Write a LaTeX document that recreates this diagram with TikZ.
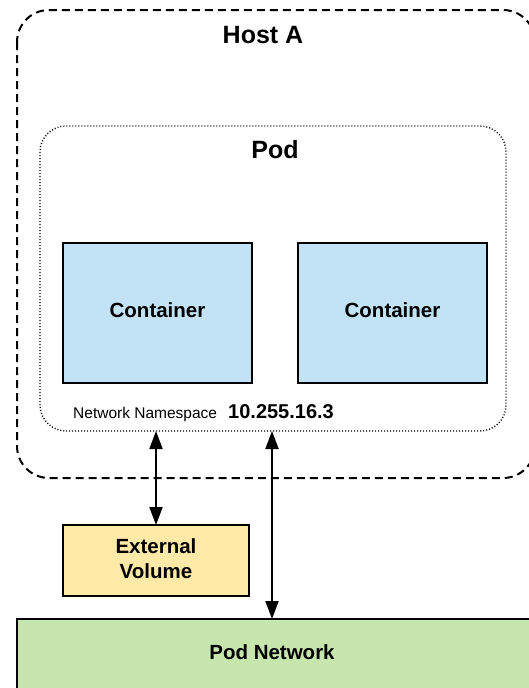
\documentclass[tikz,border=0pt]{standalone}
\usepackage{fontspec}
\setmainfont{Liberation Sans}
\usetikzlibrary{arrows.meta}
\definecolor{cblue}{HTML}{C1E3F5}
\definecolor{cyellow}{HTML}{FFE9A6}
\definecolor{cgreen}{HTML}{C6E6AE}
\begin{document}
\begin{tikzpicture}[x=1pt,y=-1pt,
  boxstyle/.style={draw=black,line width=2pt,inner sep=0pt,outer sep=0pt},
  title/.style={font=\fontsize{25}{30}\selectfont\bfseries,inner sep=0pt},
  lbl/.style={font=\fontsize{20.5}{24}\selectfont\bfseries,align=center,inner sep=0pt},
  conn/.style={line width=2pt,{Triangle[length=18pt,width=13pt]}-{Triangle[length=18pt,width=13pt]}}]
\useasboundingbox (0,0) rectangle (529,688);
\clip (0,0) rectangle (529,688);
% Host A
\draw[line width=2pt,dash pattern=on 8pt off 5pt,rounded corners=32pt] (17,10) rectangle (535,478);
\node[title] (host) at (263,35) {Host A};
% Pod
\draw[line width=1.4pt,dash pattern=on 1pt off 2pt,rounded corners=26pt] (40,126) rectangle (506,431);
\coordinate (podbot1) at (156,431);
\coordinate (podbot2) at (272,431);
\node[title] (pod) at (275,150) {Pod};
% Containers
\node[boxstyle,fill=cblue,minimum width=189pt,minimum height=140pt,anchor=north west] (c1) at (63,243) {};
\node[lbl] at ([yshift=3pt]c1.center) {Container};
\node[boxstyle,fill=cblue,minimum width=189pt,minimum height=140pt,anchor=north west] (c2) at (298,243) {};
\node[lbl] at ([yshift=3pt]c2.center) {Container};
% namespace label
\node[font=\fontsize{15.5}{18}\selectfont,anchor=base west,inner sep=0pt] (ns) at (73,418) {Network Namespace};
\node[font=\fontsize{20}{24}\selectfont\bfseries,anchor=base west,inner sep=0pt] (ip) at (228,418) {10.255.16.3};
% External volume
\node[boxstyle,fill=cyellow,minimum width=186pt,minimum height=71pt,anchor=north west] (ev) at (63,525) {};
\node[lbl,font=\fontsize{20.5}{25}\selectfont\bfseries] at ([yshift=2pt]ev.center) {External\\Volume};
% Pod network
\node[boxstyle,fill=cgreen,minimum width=530pt,minimum height=100pt,anchor=north west] (pn) at (17,619) {};
\node[lbl] (pnl) at (272,652) {Pod Network};
% connectors
\draw[conn] (podbot1) -- (podbot1 |- ev.north);
\draw[conn] (podbot2) -- (podbot2 |- pn.north);
\end{tikzpicture}
\end{document}
